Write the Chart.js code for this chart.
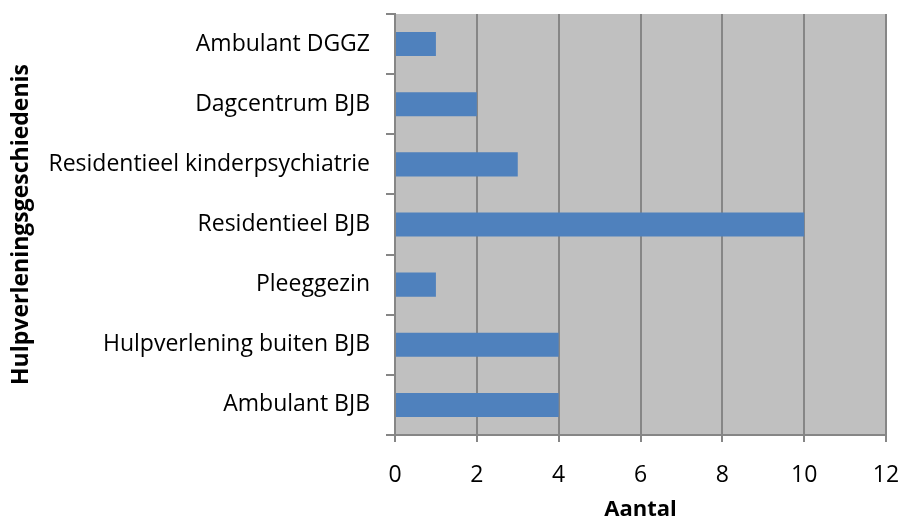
<!DOCTYPE html>
<html>
<head>
<meta charset="utf-8">
<script src="https://cdn.jsdelivr.net/npm/chart.js@4"></script>
<style>
  html, body { margin: 0; padding: 0; background: #fff; }
  #wrap { width: 901px; height: 521px; }
</style>
</head>
<body>
<div id="wrap"><canvas id="chart"></canvas></div>
<script>
// categories, top to bottom
const categories = [
    'Ambulant DGGZ',
    'Dagcentrum BJB',
    'Residentieel kinderpsychiatrie',
    'Residentieel BJB',
    'Pleeggezin',
    'Hulpverlening buiten BJB',
    'Ambulant BJB'
];
const aantal = [1, 2, 3, 10, 1, 4, 4];
const xTicks = [0, 2, 4, 6, 8, 10, 12];

const fontFamily = "'Open Sans', sans-serif";

// grey plot area behind the bars
const plotBackground = {
    id: 'plotBackground',
    beforeDraw(chart){
        const a = chart.chartArea;
        const c = chart.ctx;
        c.save();
        c.fillStyle = '#c0c0c0';
        c.fillRect(a.left, a.top, a.right - a.left, a.bottom - a.top);
        c.restore();
    }
};

new Chart(document.getElementById('chart'), {
    type: 'bar',
    data: {
        labels: categories,
        datasets: [{
            label: 'Aantal',
            data: aantal,
            backgroundColor: '#4f81bd',
            borderWidth: 0,
            categoryPercentage: 0.8,
            barPercentage: 0.5
        }]
    },
    options: {
        indexAxis: 'y',
        responsive: true,
        maintainAspectRatio: false,
        animation: false,
        layout: { padding: { top: 14, right: 15, left: 0, bottom: 0 } },
        plugins: {
            legend: { display: false },
            tooltip: { enabled: false }
        },
        scales: {
            x: {
                min: 0,
                max: 12,
                afterBuildTicks(scale){
                    scale.ticks = xTicks.map(v => ({ value: v }));
                },
                afterFit(scale){
                    scale.height = 86;
                    // keep the plot area edges fixed, labels may overhang
                    scale.paddingLeft = 0;
                    scale.paddingRight = 0;
                },
                grid: {
                    color: '#868686',
                    lineWidth: 2,
                    tickLength: 7,
                    tickColor: '#868686'
                },
                border: { color: '#868686', width: 2 },
                ticks: {
                    color: '#000',
                    font: { family: fontFamily, size: 23 },
                    padding: 20
                },
                title: {
                    display: true,
                    text: 'Aantal',
                    color: '#000',
                    font: { family: fontFamily, size: 22, weight: 'bold', lineHeight: 1 },
                    padding: { top: 4, bottom: 0 }
                }
            },
            y: {
                afterFit(scale){
                    scale.width = 395;
                    scale.paddingTop = 0;
                    scale.paddingBottom = 0;
                },
                grid: {
                    offset: true,
                    drawOnChartArea: false,
                    tickLength: 9,
                    tickColor: '#868686',
                    lineWidth: 2
                },
                border: { color: '#868686', width: 2 },
                ticks: {
                    color: '#000',
                    font: { family: fontFamily, size: 23 },
                    padding: 16
                },
                title: {
                    display: true,
                    text: 'Hulpverleningsgeschiedenis',
                    color: '#000',
                    font: { family: fontFamily, size: 23, weight: 'bold', lineHeight: 1 },
                    padding: { top: 10, bottom: 0 }
                }
            }
        }
    },
    plugins: [plotBackground]
});
</script>
</body>
</html>
